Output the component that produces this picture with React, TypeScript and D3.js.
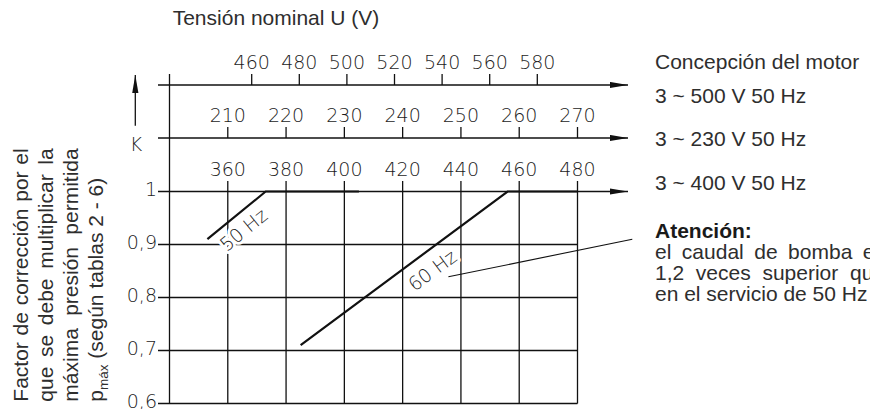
import React, { useEffect, useRef } from 'react';
import * as d3 from 'd3';

// correction factor K (vertical scale)
const kTicks = [0.6, 0.7, 0.8, 0.9, 1];
const kTickLabels = ['0,6', '0,7', '0,8', '0,9', '1'];

// the three voltage scales, top to bottom
const volts500 = [460, 480, 500, 520, 540, 560, 580];
const volts230 = [210, 220, 230, 240, 250, 260, 270];
const volts400 = [360, 380, 400, 420, 440, 460, 480];
const motorLabels = ['3 ~ 500 V 50 Hz', '3 ~ 230 V 50 Hz', '3 ~ 400 V 50 Hz'];

// curves, read against the 400 V scale
const hz50U = [353, 373, 405];
const hz50K = [0.91, 1, 1];
const hz60U = [385, 456, 480];
const hz60K = [0.71, 1, 1];

// leader from the 60 Hz curve to the note
const leaderU = [435.7, 498.8];
const leaderK = [0.839, 0.91];

const xTitle = 'Tensión nominal U (V)';
const yTitle = ['Factor de corrección por el', 'que se debe multiplicar la', 'máxima presión permitida'];
const yTitleLast = ['p', 'máx', ' (según tablas 2 - 6)'];
const motorHeading = 'Concepción del motor';
const noteHeading = 'Atención:';
const noteLines = ['el caudal de bomba es', '1,2 veces superior que', 'en el servicio de 50 Hz'];

const ink = '#111';
const textInk = '#2e2e2e';
const techFont = '"DejaVu Sans", sans-serif';
const sansFont = '"Liberation Sans", Arial, sans-serif';

export default function App() {
  const ref = useRef<SVGSVGElement>(null);

  useEffect(() => {
    const svg = d3.select(ref.current);
    svg.selectAll('*').remove();

    const left = 169.5;
    const right = 577.5;
    const arrowEnd = 628;
    const x400 = d3.scaleLinear().domain([340, 480]).range([left, right]);
    const x230 = d3.scaleLinear().domain([200, 270]).range([left, right]);
    const x500 = d3.scaleLinear().domain([460, 580]).range([251.7, 537.3]);
    const y = d3.scaleLinear().domain([0.6, 1]).range([403.5, 191.5]);
    const rowY = [85, 138, y(1)];

    svg.append('defs').append('marker')
      .attr('id', 'arr')
      .attr('viewBox', '0 0 18 7')
      .attr('refX', 18)
      .attr('refY', 3.5)
      .attr('markerWidth', 18)
      .attr('markerHeight', 7)
      .attr('markerUnits', 'userSpaceOnUse')
      .attr('orient', 'auto')
      .append('path')
      .attr('d', 'M0,0.4L18,3.5L0,6.6Z')
      .attr('fill', ink);

    const grid = svg.append('g').attr('stroke', ink).attr('stroke-width', 1.3);

    // horizontal grid, K = 1 is also the 400 V axis
    grid.selectAll('line.h')
      .data(kTicks)
      .join('line')
      .attr('class', 'h')
      .attr('x1', 158)
      .attr('x2', d => (d === 1 ? arrowEnd : right))
      .attr('y1', d => y(d))
      .attr('y2', d => y(d))
      .attr('marker-end', d => (d === 1 ? 'url(#arr)' : null));

    // vertical grid
    grid.selectAll('line.v')
      .data(volts400)
      .join('line')
      .attr('class', 'v')
      .attr('x1', d => x400(d))
      .attr('x2', d => x400(d))
      .attr('y1', y(1) - 10.5)
      .attr('y2', y(0.6));

    // K axis
    grid.append('line')
      .attr('x1', left).attr('x2', left)
      .attr('y1', 74).attr('y2', y(0.6));

    // 500 V and 230 V axes
    grid.selectAll('line.a')
      .data(rowY.slice(0, 2))
      .join('line')
      .attr('class', 'a')
      .attr('x1', 158)
      .attr('x2', arrowEnd)
      .attr('y1', d => d)
      .attr('y2', d => d)
      .attr('marker-end', 'url(#arr)');

    const upperScales = [
      { scale: x500, values: volts500, yy: rowY[0] },
      { scale: x230, values: volts230, yy: rowY[1] },
    ];
    upperScales.forEach(s => {
      grid.append('g').selectAll('line')
        .data(s.values)
        .join('line')
        .attr('x1', d => s.scale(d))
        .attr('x2', d => s.scale(d))
        .attr('y1', s.yy - 11)
        .attr('y2', s.yy);
    });

    // voltage tick labels
    const tech = svg.append('g')
      .attr('font-family', techFont)
      .attr('font-weight', 200)
      .attr('font-size', 19)
      .attr('fill', '#1c1c1c');

    const allScales = [
      { scale: x500, values: volts500, yy: rowY[0] },
      { scale: x230, values: volts230, yy: rowY[1] },
      { scale: x400, values: volts400, yy: rowY[2] },
    ];
    allScales.forEach(s => {
      tech.append('g').selectAll('text')
        .data(s.values)
        .join('text')
        .attr('x', d => s.scale(d))
        .attr('y', s.yy - 16)
        .attr('text-anchor', 'middle')
        .text(d => d);
    });

    // K tick labels
    tech.append('g').selectAll('text')
      .data(kTicks)
      .join('text')
      .attr('x', 157)
      .attr('y', d => y(d) + 4.8)
      .attr('text-anchor', 'end')
      .text((d, i) => kTickLabels[i]);

    // K arrow
    grid.append('line')
      .attr('x1', 135.3).attr('x2', 135.3)
      .attr('y1', 125.7).attr('y2', 75)
      .attr('marker-end', 'url(#arr)');
    tech.append('text')
      .attr('x', 136)
      .attr('y', 150.5)
      .attr('text-anchor', 'middle')
      .text('K');

    // curves
    const curves = [
      { u: hz50U, k: hz50K, label: '50 Hz', t: 0.45, off: 15.5 },
      { u: hz60U, k: hz60K, label: '60 Hz', t: 0.583, off: 18.3 },
    ];
    curves.forEach(c => {
      const pts = c.u.map((u, i) => [x400(u), y(c.k[i])] as [number, number]);
      svg.append('path')
        .attr('d', d3.line()(pts))
        .attr('fill', 'none')
        .attr('stroke', ink)
        .attr('stroke-width', 2.2);

      const [p0, p1] = pts;
      const dx = p1[0] - p0[0];
      const dy = p1[1] - p0[1];
      const len = Math.hypot(dx, dy);
      const nx = -dy / len;
      const ny = dx / len;
      const cx = p0[0] + dx * c.t + nx * c.off;
      const cy = p0[1] + dy * c.t + ny * c.off;
      const ang = (Math.atan2(dy, dx) * 180) / Math.PI;
      tech.append('text')
        .attr('transform', `translate(${cx},${cy}) rotate(${ang})`)
        .attr('text-anchor', 'middle')
        .attr('dy', '0.36em')
        .attr('stroke', '#fff')
        .attr('stroke-width', 6)
        .attr('stroke-linejoin', 'round')
        .attr('paint-order', 'stroke')
        .text(c.label);
    });

    // leader
    svg.append('line')
      .attr('x1', x400(leaderU[0])).attr('y1', y(leaderK[0]))
      .attr('x2', x400(leaderU[1])).attr('y2', y(leaderK[1]))
      .attr('stroke', ink)
      .attr('stroke-width', 1.1);

    const justify = (sel: any, width: number) => {
      const node = sel.node() as SVGTextElement;
      const natural = node.getComputedTextLength();
      const spaces = (node.textContent || '').split(' ').length - 1;
      if (spaces > 0) sel.attr('word-spacing', (width - natural) / spaces);
    };

    const sans = svg.append('g')
      .attr('font-family', sansFont)
      .attr('font-size', 21)
      .attr('fill', textInk);

    sans.append('text').attr('x', 172.7).attr('y', 25).text(xTitle);

    // vertical title, justified
    yTitle.forEach((s, i) => {
      const t = sans.append('text')
        .attr('transform', `translate(${27.7 + i * 25},401.7) rotate(-90)`)
        .text(s);
      justify(t, 253.4);
    });
    const last = sans.append('text')
      .attr('transform', `translate(${27.7 + 3 * 25},401.7) rotate(-90)`);
    last.append('tspan').text(yTitleLast[0]);
    last.append('tspan').attr('font-size', 13.5).attr('dy', 5).text(yTitleLast[1]);
    last.append('tspan').attr('dy', -5).text(yTitleLast[2]);

    // motor design
    sans.append('text').attr('x', 655).attr('y', 69.3).text(motorHeading);
    sans.selectAll('text.m')
      .data(motorLabels)
      .join('text')
      .attr('class', 'm')
      .attr('x', 655)
      .attr('y', (d, i) => 102.5 + i * 43.5)
      .text(d => d);

    // note
    sans.append('text')
      .attr('x', 655).attr('y', 238)
      .attr('font-weight', 700)
      .attr('fill', '#1a1a1a')
      .text(noteHeading);
    noteLines.forEach((s, i) => {
      const t = sans.append('text')
        .attr('x', 655)
        .attr('y', 259 + i * 21)
        .text(s);
      if (i < noteLines.length - 1) justify(t, 230);
    });
  }, []);

  return (
    <svg
      ref={ref}
      width={870}
      height={409}
      style={{ position: 'absolute', left: 0, top: 0, background: '#fff' }}
    />
  );
}
